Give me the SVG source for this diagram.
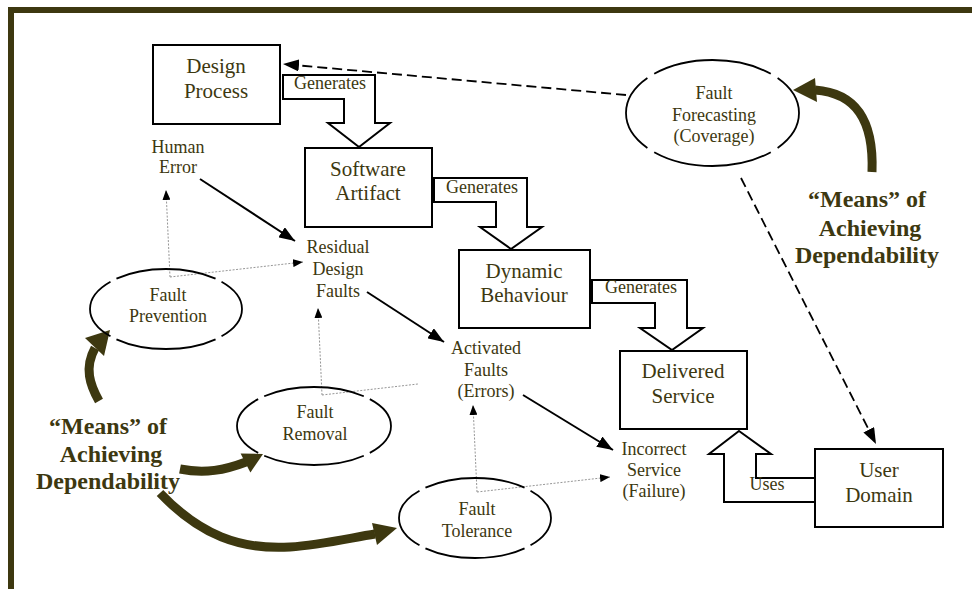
<svg xmlns="http://www.w3.org/2000/svg" width="972" height="589" viewBox="0 0 972 589">
  <defs>
    <style>
      .frame { fill: none; stroke: #3d3810; stroke-width: 6; }
      .box { fill: #ffffff; stroke: #000000; stroke-width: 2; }
      .block { fill: #ffffff; stroke: #000000; stroke-width: 2; stroke-linejoin: miter; }
      .oval { fill: none; stroke: #000000; stroke-width: 1.8; stroke-dasharray: 9.6 1.8 27.2 1.8 19.2 1.8 27.2 1.8 9.6; }
      .solid { fill: none; stroke: #000000; stroke-width: 2; }
      .dash { fill: none; stroke: #000000; stroke-width: 1.8; stroke-dasharray: 10 5; }
      .dot { fill: none; stroke: #8a8a8a; stroke-width: 0.9; stroke-dasharray: 2 1.5; }
      .means { fill: none; stroke: #3d3810; stroke-width: 9; }
      .meanshead { fill: #3d3810; stroke: none; }
      text { font-family: "Liberation Serif", "Times New Roman", serif; fill: #3d3810; text-anchor: middle; }
      .big { font-size: 21px; }
      .mid { font-size: 18px; }
      .bold { font-size: 24px; font-weight: bold; }
    </style>
    <marker id="head" viewBox="0 0 16 12" refX="16" refY="6" markerWidth="16" markerHeight="12" markerUnits="userSpaceOnUse" orient="auto">
      <path d="M0,0 L16,6 L0,12 Z" fill="#000000"/>
    </marker>
    <marker id="smallhead" viewBox="0 0 10 8" refX="10" refY="4" markerWidth="10" markerHeight="8" markerUnits="userSpaceOnUse" orient="auto">
      <path d="M0,0 L10,4 L0,8 Z" fill="#000000"/>
    </marker>
  </defs>

  <rect width="972" height="589" fill="#ffffff"/>
  <path class="frame" d="M11,592 V10 H975"/>

  <!-- connectors -->
  <g id="connectors">
    <!-- block "Generates" / "Uses" arrows -->
    <polygon class="block" points="283,75 375,75 375,123 390,123 359,147 328,123 344,123 344,99 283,99"/>
    <polygon class="block" points="434,178 527,178 527,227 542,227 511,249 480,227 496,227 496,202 434,202"/>
    <polygon class="block" points="592,280 687,280 687,328 703,328 672,350 640,328 655,328 655,303 592,303"/>
    <polygon class="block" points="739,431 771,454 756,454 756,478 815,478 815,502 724,502 724,454 709,454"/>
    <text class="mid" x="330" y="89">Generates</text>
    <text class="mid" x="482" y="193">Generates</text>
    <text class="mid" x="641" y="293">Generates</text>
    <text class="mid" x="767" y="490">Uses</text>

    <!-- dashed forecasting links -->
    <line class="dash" x1="626" y1="95" x2="283" y2="64" marker-end="url(#head)"/>
    <line class="dash" x1="741" y1="178" x2="876" y2="444" marker-end="url(#head)"/>

    <!-- fault chain -->
    <line class="solid" x1="200" y1="179" x2="295" y2="241" marker-end="url(#head)"/>
    <line class="solid" x1="367" y1="292" x2="444" y2="342" marker-end="url(#head)"/>
    <line class="solid" x1="523" y1="395" x2="613" y2="450" marker-end="url(#head)"/>

    <!-- dotted influence links -->
    <line class="dot" x1="170" y1="277" x2="166" y2="190" marker-end="url(#smallhead)"/>
    <line class="dot" x1="170" y1="277" x2="303" y2="262" marker-end="url(#smallhead)"/>
    <line class="dot" x1="322" y1="395" x2="318" y2="308" marker-end="url(#smallhead)"/>
    <line class="dot" x1="322" y1="395" x2="418" y2="384"/>
    <line class="dot" x1="477" y1="492" x2="473" y2="405" marker-end="url(#smallhead)"/>
    <line class="dot" x1="477" y1="492" x2="610" y2="477" marker-end="url(#smallhead)"/>

    <!-- thick "means" arrows -->
    <path class="means" d="M99,401 C90,385 84,368 95,348"/>
    <polygon class="meanshead" points="110,330 85,338 104,356"/>
    <path class="means" d="M180,469 C205,474 225,470 246,462"/>
    <polygon class="meanshead" points="263,454 240.6,453.4 250.4,472.6"/>
    <path class="means" d="M160,493 C200,535 240,550 290,547 C320,545 350,538 375,534"/>
    <polygon class="meanshead" points="397,528 372,523 377,545"/>
    <path class="means" d="M872,172 C874,120 856,93 815,90"/>
    <polygon class="meanshead" points="793,90 815,78 817,102"/>
  </g>

  <!-- nodes -->
  <g id="design-process">
    <rect class="box" x="153" y="45" width="127" height="79"/>
    <text class="big" x="216" y="73">Design</text>
    <text class="big" x="216" y="98">Process</text>
  </g>
  <g id="software-artifact">
    <rect class="box" x="305" y="148" width="127" height="79"/>
    <text class="big" x="368" y="176">Software</text>
    <text class="big" x="368" y="200">Artifact</text>
  </g>
  <g id="dynamic-behaviour">
    <rect class="box" x="459" y="250" width="131" height="78"/>
    <text class="big" x="524" y="278">Dynamic</text>
    <text class="big" x="524" y="302">Behaviour</text>
  </g>
  <g id="delivered-service">
    <rect class="box" x="620" y="351" width="127" height="78"/>
    <text class="big" x="683" y="378">Delivered</text>
    <text class="big" x="683" y="403">Service</text>
  </g>
  <g id="user-domain">
    <rect class="box" x="815" y="449" width="128" height="78"/>
    <text class="big" x="879" y="477">User</text>
    <text class="big" x="879" y="502">Domain</text>
  </g>

  <g id="fault-forecasting">
    <ellipse class="oval" cx="712.5" cy="113" rx="86.5" ry="53" pathLength="100"/>
    <text class="mid" x="714" y="99">Fault</text>
    <text class="mid" x="714" y="121">Forecasting</text>
    <text class="mid" x="714" y="142">(Coverage)</text>
  </g>
  <g id="fault-prevention">
    <ellipse class="oval" cx="166" cy="309" rx="76" ry="40" pathLength="100"/>
    <text class="mid" x="168" y="301">Fault</text>
    <text class="mid" x="168" y="322">Prevention</text>
  </g>
  <g id="fault-removal">
    <ellipse class="oval" cx="314" cy="426" rx="77" ry="39" pathLength="100"/>
    <text class="mid" x="315" y="418">Fault</text>
    <text class="mid" x="315" y="440">Removal</text>
  </g>
  <g id="fault-tolerance">
    <ellipse class="oval" cx="475" cy="518" rx="76" ry="40" pathLength="100"/>
    <text class="mid" x="477" y="515">Fault</text>
    <text class="mid" x="477" y="537">Tolerance</text>
  </g>

  <g id="human-error">
    <text class="mid" x="178" y="153">Human</text>
    <text class="mid" x="178" y="173">Error</text>
  </g>
  <g id="residual-design-faults">
    <text class="mid" x="338" y="253">Residual</text>
    <text class="mid" x="338" y="275">Design</text>
    <text class="mid" x="338" y="297">Faults</text>
  </g>
  <g id="activated-faults">
    <text class="mid" x="486" y="354">Activated</text>
    <text class="mid" x="486" y="376">Faults</text>
    <text class="mid" x="486" y="397">(Errors)</text>
  </g>
  <g id="incorrect-service">
    <text class="mid" x="654" y="455">Incorrect</text>
    <text class="mid" x="654" y="476">Service</text>
    <text class="mid" x="654" y="497">(Failure)</text>
  </g>

  <g id="means-left">
    <text class="bold" x="108" y="434">“Means” of</text>
    <text class="bold" x="111" y="462">Achieving</text>
    <text class="bold" x="108" y="489">Dependability</text>
  </g>
  <g id="means-right">
    <text class="bold" x="867" y="207">“Means” of</text>
    <text class="bold" x="870" y="236">Achieving</text>
    <text class="bold" x="867" y="263">Dependability</text>
  </g>
</svg>
